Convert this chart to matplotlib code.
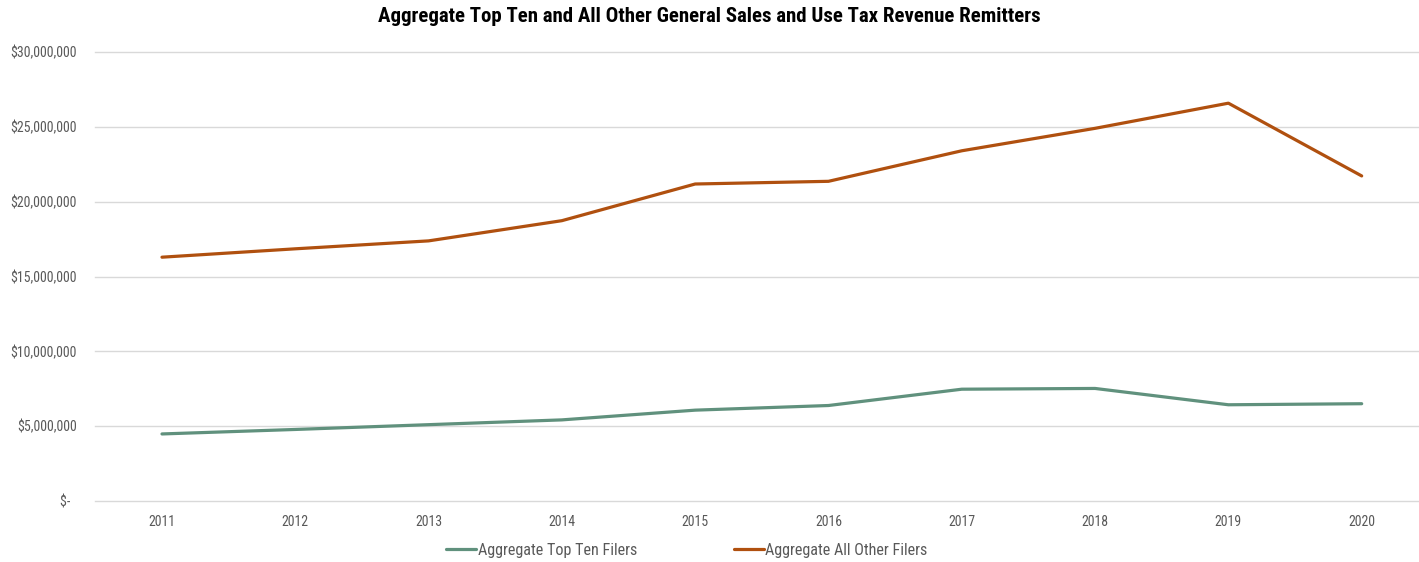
import matplotlib
matplotlib.use("Agg")
import matplotlib.pyplot as plt
from matplotlib.ticker import FuncFormatter, MultipleLocator

years = ["2011", "2012", "2013", "2014", "2015", "2016", "2017", "2018", "2019", "2020"]
top_ten = [4.48e6, 4.78e6, 5.10e6, 5.42e6, 6.07e6, 6.38e6, 7.47e6, 7.52e6, 6.43e6, 6.50e6]
all_other = [16.29e6, 16.85e6, 17.38e6, 18.73e6, 21.18e6, 21.36e6, 23.40e6, 24.90e6, 26.58e6, 21.72e6]

plt.rcParams["font.family"] = ["Roboto Condensed", "Liberation Sans Narrow", "DejaVu Sans"]
plt.rcParams["font.stretch"] = "condensed"

GREEN = "#60917D"
ORANGE = "#B0500F"
GRID = "#D9D9D9"
TXT = "#595959"

fig = plt.figure(figsize=(14.19, 5.62), dpi=100)
ax = fig.add_axes([95 / 1419, 1 - 501 / 562, 1 - 95 / 1419, (501 - 52) / 562])

x = list(range(len(years)))
l1, = ax.plot(x, top_ten, color=GREEN, lw=2.3, solid_capstyle="round", solid_joinstyle="round",
              label="Aggregate Top Ten Filers")
l2, = ax.plot(x, all_other, color=ORANGE, lw=2.3, solid_capstyle="round", solid_joinstyle="round",
              label="Aggregate All Other Filers")

ax.set_xlim(-0.5025, 9.43)
ax.set_ylim(0, 30e6)
ax.yaxis.set_major_locator(MultipleLocator(5e6))


def money(v, pos):
    if abs(v) < 1:
        return "$-  "
    return f"${v:,.0f}"


ax.yaxis.set_major_formatter(FuncFormatter(money))
ax.set_xticks(x)
ax.set_xticklabels(years)
ax.tick_params(axis="both", length=0, labelsize=10, colors=TXT)
ax.tick_params(axis="y", pad=13)
ax.tick_params(axis="x", pad=10)
ax.grid(axis="y", color=GRID, lw=1)
for gl in ax.get_ygridlines():
    gl.set_clip_on(False)
ax.set_axisbelow(True)
for s in ax.spines.values():
    s.set_visible(False)

fig.text(709 / 1419, 1 - 17 / 562, "Aggregate Top Ten and All Other General Sales and Use Tax Revenue Remitters",
         ha="center", va="center", fontsize=15, fontweight="bold", color="black")

fig.legend(handles=[l1, l2], loc="center", bbox_to_anchor=(687 / 1419, 1 - 550 / 562), ncol=2,
           frameon=False, fontsize=11.6, handlelength=1.86, handletextpad=0.1, columnspacing=6.0,
           labelcolor=TXT)

fig.savefig("out.png", dpi=100, facecolor="white")
